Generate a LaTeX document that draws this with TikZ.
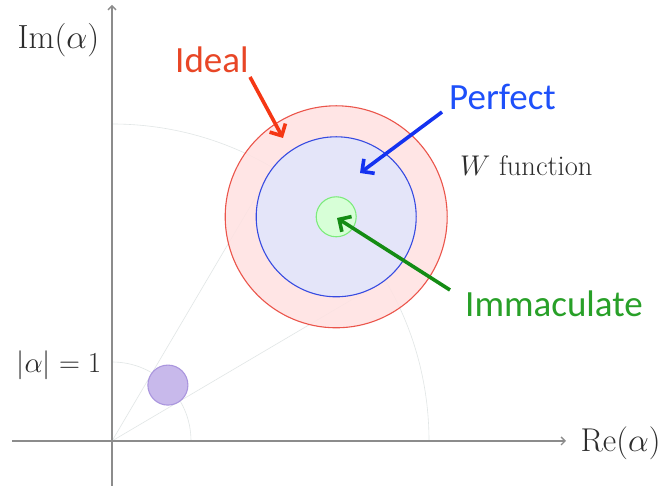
\documentclass[tikz,border=0pt]{standalone}
\usepackage{fix-cm}
\usepackage{fontspec}
\newfontfamily\calib{Carlito}
\usetikzlibrary{arrows.meta}
\definecolor{axisgray}{RGB}{140,140,140}
\definecolor{mathtext}{RGB}{45,45,45}
\definecolor{faintgray}{RGB}{225,230,230}
\definecolor{redfill}{RGB}{255,226,226}
\definecolor{redline}{RGB}{235,85,75}
\definecolor{bluefill}{RGB}{226,230,252}
\definecolor{blueline}{RGB}{55,75,225}
\definecolor{greenfill}{RGB}{215,255,215}
\definecolor{greenline}{RGB}{125,235,125}
\definecolor{purplefill}{RGB}{200,185,235}
\definecolor{purpleline}{RGB}{170,150,222}
\definecolor{idealtext}{RGB}{232,70,38}
\definecolor{idealarrow}{RGB}{245,55,20}
\definecolor{perfecttext}{RGB}{30,80,250}
\definecolor{perfectarrow}{RGB}{20,50,240}
\definecolor{immtext}{RGB}{40,160,40}
\definecolor{immarrow}{RGB}{20,140,20}
\tikzset{
  axisline/.style={draw=axisgray,line width=1.4pt,-{Straight Barb[length=4pt,width=8pt]}},
  faint/.style={draw=faintgray,line width=0.6pt},
  disc/.style={circle,inner sep=0pt,line width=1.1pt},
  mathlabel/.style={inner sep=0pt,text=mathtext},
  colorlabel/.style={inner sep=0pt,font=\calib\fontsize{37}{44}\selectfont},
  callout/.style={line width=3.6pt,-{Straight Barb[length=9pt,width=18pt]}},
}
\begin{document}
\begin{tikzpicture}[x=1pt,y=1pt]
\useasboundingbox (0,0) rectangle (665,486);
\fill[white] (0,0) rectangle (665,486);
% coordinates
\coordinate (O) at (112,45);
\coordinate (xs) at (12,45);
\coordinate (xe) at (566,45);
\coordinate (ys) at (112,0);
\coordinate (ye) at (112,481);
\coordinate (C) at (336.2,269.2);
\coordinate (P) at (167.9,100.9);
\coordinate (t1) at (376.2,200.7);
\coordinate (t2) at (267.7,309.2);
% faint construction lines and arcs
\draw[faint] (O) -- (t1);
\draw[faint] (O) -- (t2);
\draw[faint] (O) ++(0:79) arc[start angle=0,end angle=90,radius=79];
\draw[faint] (O) ++(0:317) arc[start angle=0,end angle=90,radius=317];
% axes
\draw[axisline] (xs) -- (xe);
\draw[axisline] (ys) -- (ye);
% discs
\node[disc,draw=redline,fill=redfill,fill opacity=0.88,minimum size=222pt] (ideal) at (C) {};
\node[disc,draw=blueline,fill=bluefill,fill opacity=0.9,minimum size=160pt] (perfect) at (C) {};
\node[disc,draw=greenline,fill=greenfill,minimum size=40pt] (imm) at (C) {};
\node[disc,draw=purpleline,fill=purplefill,minimum size=40pt] (unit) at (P) {};
% math labels
\node[mathlabel,font=\fontsize{33.5}{40}\selectfont] (im) at (58.5,446) {$\mathrm{Im}(\alpha)$};
\node[mathlabel,font=\fontsize{33}{40}\selectfont] (re) at (620.5,43) {$\mathrm{Re}(\alpha)$};
\node[mathlabel,font=\fontsize{29}{35}\selectfont] (abs) at (59,121) {$|\alpha| = 1$};
\node[mathlabel,font=\fontsize{28.5}{34}\selectfont,anchor=base west] (wf) at (460,310) {$W$ function};
% colour labels
\node[colorlabel,text=idealtext,anchor=base west] (lideal) at (175,413) {Ideal};
\node[colorlabel,text=perfecttext,anchor=base west] (lperfect) at (449,376) {Perfect};
\node[colorlabel,text=immtext,anchor=base west] (limm) at (465,169) {Immaculate};
% callout arrows
\coordinate (a1s) at (250,409);
\coordinate (a1e) at (283,348);
\coordinate (a2s) at (442,374);
\coordinate (a2e) at (360,313);
\coordinate (a3s) at (450,196);
\coordinate (a3e) at (337,268);
\draw[callout,draw=idealarrow] (a1s) -- (a1e);
\draw[callout,draw=perfectarrow] (a2s) -- (a2e);
\draw[callout,draw=immarrow] (a3s) -- (a3e);
\end{tikzpicture}
\end{document}
